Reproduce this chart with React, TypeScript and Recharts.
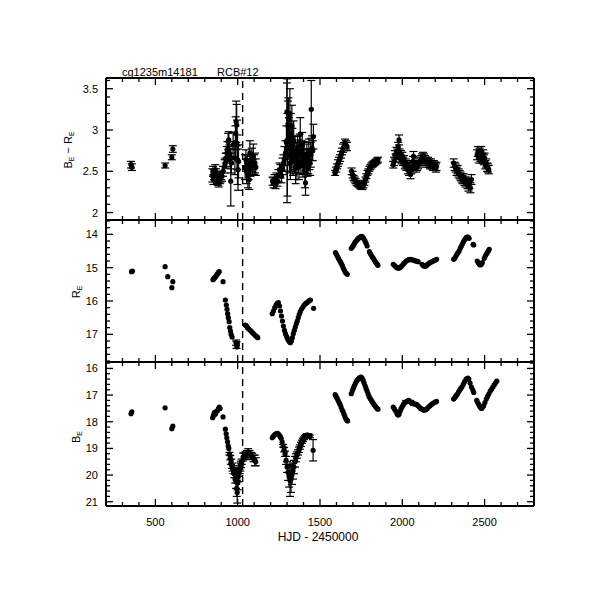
import React from "react";
import {
  ErrorBar,
  ReferenceLine,
  Scatter,
  ScatterChart,
  XAxis,
  YAxis,
} from "recharts";

// [HJD - 2450000, value, error]
type Pt = [number, number, number];

const colourPts: Pt[] = [
  [352, 2.58, 0.04], [357, 2.55, 0.04], [559, 2.57, 0.03], [600, 2.67, 0.03], [606, 2.77, 0.04],
  [846, 2.45, 0.08], [850, 2.5, 0.06], [853, 2.4, 0.06], [856, 2.46, 0.06], [860, 2.44, 0.05],
  [864, 2.52, 0.06], [868, 2.48, 0.05], [872, 2.42, 0.06], [876, 2.4, 0.05], [880, 2.38, 0.05],
  [885, 2.36, 0.05], [890, 2.4, 0.05], [895, 2.42, 0.06], [900, 2.45, 0.05], [905, 2.44, 0.06],
  [911, 2.5, 0.06], [920, 2.56, 0.08], [925, 2.6, 0.06], [928, 2.66, 0.06], [931, 2.64, 0.08],
  [935, 2.72, 0.08], [938, 2.76, 0.1], [942, 2.86, 0.1], [946, 2.88, 0.1], [950, 2.72, 0.1],
  [955, 2.65, 0.12], [958, 2.38, 0.3], [962, 2.6, 0.12], [972, 2.82, 0.15], [983, 2.66, 0.2],
  [986, 2.85, 0.2], [988, 2.96, 0.2], [991, 3.1, 0.25], [994, 3.06, 0.25], [996, 2.82, 0.3],
  [999, 2.64, 0.3], [1002, 2.52, 0.25], [1005, 2.62, 0.2],
  [1045, 2.55, 0.15], [1050, 2.64, 0.12], [1054, 2.5, 0.15], [1058, 2.6, 0.1], [1062, 2.45, 0.15],
  [1066, 2.52, 0.12], [1070, 2.4, 0.12], [1074, 2.72, 0.15], [1078, 2.56, 0.12], [1082, 2.6, 0.1],
  [1086, 2.66, 0.12], [1090, 2.55, 0.1], [1095, 2.68, 0.15], [1100, 2.58, 0.12], [1105, 2.6, 0.12],
  [1110, 2.55, 0.1],
  [1212, 2.38, 0.05], [1218, 2.36, 0.06], [1224, 2.4, 0.06], [1230, 2.34, 0.05], [1236, 2.42, 0.06],
  [1242, 2.38, 0.06], [1248, 2.45, 0.07], [1254, 2.52, 0.08], [1260, 2.5, 0.08], [1266, 2.44, 0.08],
  [1272, 2.56, 0.1], [1278, 2.6, 0.1], [1284, 2.65, 0.15], [1290, 2.72, 0.15],
  [1296, 2.85, 0.2], [1299, 3.22, 0.35], [1300, 2.87, 0.75], [1302, 2.7, 0.5], [1305, 3.05, 0.3],
  [1308, 3.14, 0.25], [1311, 2.9, 0.25], [1314, 2.78, 0.3], [1317, 3.2, 0.3], [1320, 2.6, 0.2],
  [1323, 2.95, 0.25], [1326, 2.7, 0.2], [1329, 3.05, 0.25], [1332, 2.82, 0.2], [1336, 2.65, 0.2],
  [1340, 2.86, 0.25], [1344, 2.62, 0.15], [1348, 2.72, 0.2], [1352, 2.55, 0.2], [1356, 2.7, 0.15],
  [1360, 2.6, 0.2], [1364, 2.78, 0.15], [1368, 2.68, 0.2], [1372, 2.55, 0.15], [1376, 2.75, 0.2],
  [1380, 2.95, 0.2], [1384, 2.62, 0.15], [1388, 2.72, 0.15], [1392, 2.82, 0.15], [1396, 2.58, 0.15],
  [1400, 2.66, 0.2], [1404, 2.7, 0.15], [1408, 2.5, 0.2], [1412, 2.36, 0.15], [1416, 2.62, 0.15],
  [1420, 2.68, 0.15], [1424, 2.56, 0.12], [1428, 2.62, 0.15], [1432, 2.74, 0.15], [1436, 2.64, 0.12],
  [1440, 2.6, 0.15], [1444, 2.7, 0.15], [1447, 3.25, 0.35], [1452, 2.78, 0.15], [1456, 2.75, 0.12],
  [1460, 2.92, 0.15],
  [1592, 2.48, 0.03], [1598, 2.52, 0.03], [1604, 2.56, 0.03], [1610, 2.6, 0.04], [1616, 2.63, 0.04],
  [1622, 2.66, 0.04], [1628, 2.7, 0.04], [1634, 2.74, 0.04], [1640, 2.78, 0.05], [1646, 2.8, 0.05],
  [1652, 2.84, 0.05], [1658, 2.82, 0.05], [1664, 2.8, 0.05],
  [1692, 2.5, 0.04], [1698, 2.46, 0.04], [1704, 2.42, 0.03], [1710, 2.4, 0.03], [1716, 2.38, 0.03],
  [1722, 2.36, 0.03], [1728, 2.35, 0.03], [1734, 2.34, 0.03], [1740, 2.33, 0.03], [1746, 2.32, 0.03],
  [1752, 2.31, 0.03], [1758, 2.31, 0.03], [1764, 2.33, 0.03], [1770, 2.36, 0.03], [1776, 2.4, 0.03],
  [1782, 2.44, 0.03], [1788, 2.48, 0.03], [1794, 2.5, 0.03], [1800, 2.53, 0.03], [1806, 2.55, 0.03],
  [1812, 2.57, 0.03], [1818, 2.58, 0.03], [1824, 2.59, 0.03], [1830, 2.6, 0.03], [1836, 2.61, 0.03],
  [1842, 2.62, 0.03], [1848, 2.63, 0.03], [1852, 2.64, 0.03],
  [1945, 2.58, 0.04], [1950, 2.62, 0.05], [1955, 2.7, 0.05], [1960, 2.66, 0.05], [1965, 2.74, 0.05],
  [1970, 2.72, 0.05], [1975, 2.8, 0.05], [1980, 2.88, 0.06], [1984, 2.72, 0.05], [1988, 2.66, 0.05],
  [1992, 2.7, 0.05], [1996, 2.64, 0.05], [2000, 2.68, 0.05], [2005, 2.62, 0.05], [2010, 2.64, 0.05],
  [2015, 2.58, 0.05], [2020, 2.6, 0.05], [2025, 2.56, 0.05], [2030, 2.58, 0.05], [2035, 2.52, 0.05],
  [2040, 2.5, 0.05], [2045, 2.55, 0.05], [2050, 2.46, 0.05], [2055, 2.52, 0.05], [2060, 2.56, 0.05],
  [2065, 2.62, 0.06], [2068, 2.68, 0.06], [2072, 2.58, 0.05], [2078, 2.56, 0.05], [2084, 2.54, 0.05],
  [2090, 2.56, 0.05], [2096, 2.58, 0.05], [2102, 2.6, 0.05], [2108, 2.62, 0.05], [2114, 2.64, 0.05],
  [2120, 2.66, 0.05], [2126, 2.68, 0.05], [2132, 2.66, 0.05], [2138, 2.64, 0.05], [2144, 2.62, 0.05],
  [2150, 2.6, 0.05], [2156, 2.62, 0.05], [2162, 2.6, 0.05], [2168, 2.58, 0.05], [2174, 2.6, 0.05],
  [2180, 2.58, 0.05], [2186, 2.56, 0.05], [2192, 2.58, 0.05], [2198, 2.56, 0.05], [2204, 2.54, 0.05],
  [2208, 2.56, 0.05],
  [2312, 2.6, 0.05], [2318, 2.56, 0.05], [2324, 2.54, 0.05], [2330, 2.5, 0.05], [2336, 2.52, 0.05],
  [2342, 2.48, 0.05], [2348, 2.46, 0.05], [2354, 2.44, 0.05], [2360, 2.42, 0.05], [2366, 2.4, 0.05],
  [2372, 2.42, 0.05], [2378, 2.38, 0.05], [2384, 2.36, 0.05], [2390, 2.38, 0.05], [2396, 2.34, 0.05],
  [2402, 2.32, 0.06], [2408, 2.35, 0.06], [2414, 2.3, 0.06], [2420, 2.4, 0.06],
  [2455, 2.7, 0.06], [2460, 2.74, 0.06], [2465, 2.66, 0.06], [2470, 2.72, 0.06], [2475, 2.68, 0.06],
  [2480, 2.74, 0.06], [2485, 2.66, 0.06], [2490, 2.7, 0.06], [2495, 2.64, 0.06], [2500, 2.66, 0.06],
  [2505, 2.58, 0.05], [2510, 2.6, 0.05], [2515, 2.55, 0.05], [2520, 2.54, 0.05], [2525, 2.52, 0.05],
];

const rPts: Pt[] = [
  [355, 15.12, 0], [361, 15.1, 0],
  [559, 14.97, 0], [575, 15.27, 0], [600, 15.6, 0], [606, 15.42, 0],
  [850, 15.36, 0], [855, 15.33, 0], [860, 15.3, 0], [866, 15.27, 0], [872, 15.22, 0],
  [878, 15.18, 0], [884, 15.14, 0], [888, 15.12, 0], [911, 15.42, 0],
  [925, 15.97, 0], [931, 16.12, 0], [935, 16.25, 0], [939, 16.38, 0], [943, 16.5, 0],
  [948, 16.62, 0], [952, 16.8, 0], [956, 16.9, 0], [960, 17.0, 0], [966, 17.08, 0],
  [990, 17.25, 0.08], [993, 17.32, 0.1], [996, 17.38, 0], [998, 17.28, 0],
  [1046, 16.72, 0], [1052, 16.74, 0], [1060, 16.8, 0], [1068, 16.84, 0], [1076, 16.88, 0],
  [1084, 16.92, 0], [1092, 16.96, 0], [1100, 17.0, 0], [1108, 17.04, 0], [1116, 17.07, 0], [1122, 17.1, 0],
  [1210, 16.38, 0], [1217, 16.3, 0], [1225, 16.2, 0], [1233, 16.12, 0], [1240, 16.07, 0],
  [1247, 16.05, 0], [1254, 16.15, 0], [1260, 16.3, 0], [1266, 16.45, 0], [1272, 16.6, 0],
  [1278, 16.75, 0], [1284, 16.88, 0], [1290, 16.98, 0], [1296, 17.05, 0], [1302, 17.12, 0],
  [1308, 17.18, 0], [1314, 17.22, 0], [1320, 17.25, 0], [1326, 17.2, 0], [1332, 17.1, 0],
  [1338, 16.98, 0], [1344, 16.88, 0], [1350, 16.78, 0], [1356, 16.68, 0], [1362, 16.6, 0],
  [1368, 16.5, 0], [1374, 16.4, 0], [1380, 16.32, 0], [1388, 16.24, 0], [1396, 16.18, 0],
  [1404, 16.12, 0], [1412, 16.08, 0], [1420, 16.05, 0], [1428, 16.02, 0], [1436, 15.98, 0],
  [1442, 15.97, 0], [1461, 16.22, 0],
  [1594, 14.55, 0], [1600, 14.6, 0], [1606, 14.66, 0], [1612, 14.72, 0], [1618, 14.78, 0],
  [1624, 14.82, 0], [1630, 14.88, 0], [1636, 14.94, 0], [1642, 15.02, 0], [1648, 15.08, 0],
  [1654, 15.14, 0], [1660, 15.17, 0], [1666, 15.2, 0],
  [1690, 14.42, 0], [1696, 14.38, 0], [1702, 14.34, 0], [1708, 14.28, 0], [1714, 14.23, 0],
  [1720, 14.2, 0], [1726, 14.16, 0], [1732, 14.13, 0], [1738, 14.1, 0], [1744, 14.08, 0],
  [1750, 14.06, 0], [1756, 14.07, 0], [1762, 14.1, 0], [1768, 14.15, 0], [1774, 14.2, 0],
  [1780, 14.27, 0], [1786, 14.35, 0], [1800, 14.52, 0], [1806, 14.58, 0], [1812, 14.63, 0],
  [1818, 14.68, 0], [1824, 14.72, 0], [1830, 14.77, 0], [1836, 14.82, 0], [1842, 14.86, 0],
  [1848, 14.9, 0], [1852, 14.93, 0],
  [1945, 14.9, 0], [1952, 14.93, 0], [1960, 14.97, 0], [1968, 15.0, 0], [1976, 15.02, 0],
  [1984, 15.0, 0], [1992, 14.97, 0], [2000, 14.93, 0], [2008, 14.88, 0], [2016, 14.84, 0],
  [2024, 14.8, 0], [2032, 14.78, 0], [2040, 14.76, 0], [2048, 14.75, 0], [2056, 14.76, 0],
  [2064, 14.77, 0], [2072, 14.78, 0], [2080, 14.8, 0], [2088, 14.8, 0], [2096, 14.82, 0],
  [2120, 14.9, 0], [2128, 14.94, 0], [2136, 14.96, 0], [2144, 14.95, 0], [2152, 14.91, 0],
  [2160, 14.88, 0], [2168, 14.85, 0], [2176, 14.83, 0], [2184, 14.81, 0], [2192, 14.79, 0],
  [2200, 14.77, 0], [2208, 14.75, 0],
  [2312, 14.75, 0], [2318, 14.72, 0], [2325, 14.66, 0], [2332, 14.6, 0], [2338, 14.55, 0],
  [2345, 14.5, 0], [2352, 14.42, 0], [2358, 14.36, 0], [2364, 14.3, 0], [2370, 14.24, 0],
  [2376, 14.18, 0], [2382, 14.14, 0], [2388, 14.1, 0], [2394, 14.08, 0], [2400, 14.08, 0],
  [2406, 14.12, 0], [2430, 14.3, 0], [2434, 14.32, 0],
  [2455, 14.8, 0], [2462, 14.85, 0], [2468, 14.9, 0], [2474, 14.92, 0], [2480, 14.9, 0],
  [2486, 14.85, 0], [2498, 14.72, 0], [2504, 14.65, 0], [2510, 14.6, 0], [2516, 14.55, 0],
  [2522, 14.5, 0], [2528, 14.45, 0],
];

const bPts: Pt[] = [
  [352, 17.7, 0], [357, 17.63, 0],
  [559, 17.48, 0], [600, 18.26, 0], [606, 18.16, 0],
  [848, 17.85, 0], [852, 17.78, 0], [856, 17.7, 0], [860, 17.65, 0], [864, 17.72, 0],
  [870, 17.62, 0], [876, 17.6, 0], [882, 17.52, 0], [888, 17.45, 0], [893, 17.5, 0], [911, 17.82, 0],
  [925, 18.28, 0], [930, 18.45, 0], [934, 18.6, 0], [938, 18.75, 0], [942, 18.9, 0],
  [946, 19.0, 0], [950, 19.2, 0.05], [955, 19.35, 0.08], [960, 19.5, 0.1], [965, 19.65, 0.1],
  [970, 19.75, 0.1], [975, 19.85, 0.1], [980, 19.95, 0.15], [985, 20.1, 0.2], [990, 20.25, 0.25],
  [994, 20.5, 0.3], [997, 20.65, 0.4], [1000, 20.3, 0.25], [1004, 20.05, 0.2], [1008, 19.9, 0.15],
  [1012, 19.8, 0.15], [1016, 19.7, 0.15], [1020, 19.6, 0.12], [1024, 19.5, 0.1],
  [985, 19.85, 0.12], [992, 20.0, 0.15], [1000, 19.9, 0.15],
  [1033, 19.32, 0.15], [1040, 19.3, 0.12], [1048, 19.25, 0.12], [1056, 19.2, 0.12], [1064, 19.13, 0.12],
  [1072, 19.18, 0.1], [1080, 19.25, 0.1], [1088, 19.3, 0.12], [1096, 19.38, 0.12], [1104, 19.45, 0.2],
  [1110, 19.5, 0.15],
  [1210, 18.6, 0], [1216, 18.55, 0], [1222, 18.5, 0], [1228, 18.47, 0], [1234, 18.45, 0],
  [1240, 18.44, 0], [1246, 18.45, 0], [1252, 18.5, 0], [1258, 18.55, 0], [1264, 18.62, 0],
  [1270, 18.75, 0], [1276, 18.9, 0.05], [1282, 19.05, 0.08], [1288, 19.2, 0.1], [1294, 19.45, 0.15],
  [1300, 19.7, 0.2], [1306, 19.9, 0.3], [1312, 20.05, 0.4], [1318, 20.2, 0.6], [1324, 20.15, 0.5],
  [1330, 20.0, 0.35], [1336, 19.85, 0.3], [1342, 19.7, 0.25], [1348, 19.5, 0.2], [1354, 19.35, 0.15],
  [1360, 19.25, 0.12], [1366, 19.15, 0.1], [1372, 19.05, 0.1], [1378, 18.95, 0.08], [1384, 18.85, 0.08],
  [1390, 18.75, 0.06], [1396, 18.68, 0.06], [1402, 18.62, 0.05], [1408, 18.57, 0.05], [1414, 18.53, 0.05],
  [1420, 18.5, 0.05], [1426, 18.5, 0.05], [1432, 18.52, 0.05], [1438, 18.55, 0.05], [1458, 19.07, 0.4],
  [1592, 16.98, 0], [1598, 17.05, 0], [1604, 17.12, 0], [1610, 17.2, 0], [1616, 17.28, 0],
  [1622, 17.35, 0], [1628, 17.45, 0], [1634, 17.55, 0], [1640, 17.62, 0], [1646, 17.72, 0],
  [1652, 17.82, 0], [1658, 17.9, 0], [1664, 17.95, 0], [1668, 17.97, 0],
  [1690, 16.95, 0], [1696, 16.85, 0], [1702, 16.75, 0], [1708, 16.66, 0], [1714, 16.58, 0],
  [1720, 16.5, 0], [1726, 16.44, 0], [1732, 16.4, 0], [1738, 16.36, 0], [1744, 16.34, 0],
  [1750, 16.33, 0], [1756, 16.36, 0], [1762, 16.45, 0], [1768, 16.55, 0], [1774, 16.65, 0],
  [1780, 16.75, 0], [1786, 16.85, 0], [1792, 16.95, 0], [1798, 17.05, 0], [1804, 17.12, 0],
  [1810, 17.18, 0], [1816, 17.24, 0], [1822, 17.3, 0], [1828, 17.35, 0], [1834, 17.4, 0],
  [1840, 17.45, 0], [1846, 17.5, 0], [1852, 17.53, 0],
  [1945, 17.45, 0], [1952, 17.52, 0], [1960, 17.6, 0], [1968, 17.7, 0], [1974, 17.75, 0],
  [1980, 17.72, 0], [1986, 17.62, 0], [1992, 17.52, 0], [1998, 17.45, 0], [2004, 17.38, 0],
  [2010, 17.32, 0], [2016, 17.28, 0], [2024, 17.25, 0.05], [2032, 17.22, 0], [2040, 17.2, 0],
  [2048, 17.25, 0.05], [2056, 17.3, 0], [2064, 17.32, 0], [2072, 17.33, 0.05], [2080, 17.34, 0],
  [2088, 17.36, 0], [2096, 17.4, 0], [2104, 17.46, 0], [2112, 17.5, 0], [2120, 17.53, 0],
  [2128, 17.56, 0], [2136, 17.57, 0], [2144, 17.54, 0], [2152, 17.5, 0], [2160, 17.45, 0],
  [2168, 17.4, 0], [2176, 17.36, 0], [2184, 17.32, 0], [2192, 17.29, 0], [2200, 17.26, 0], [2208, 17.24, 0],
  [2312, 17.15, 0], [2318, 17.1, 0], [2324, 17.05, 0], [2330, 17.0, 0], [2336, 16.95, 0],
  [2342, 16.88, 0], [2348, 16.82, 0], [2354, 16.76, 0], [2362, 16.7, 0], [2370, 16.6, 0],
  [2378, 16.5, 0], [2386, 16.42, 0], [2392, 16.38, 0], [2398, 16.36, 0], [2404, 16.4, 0],
  [2412, 16.55, 0], [2420, 16.7, 0], [2428, 16.8, 0], [2434, 16.9, 0],
  [2452, 17.2, 0], [2458, 17.28, 0], [2464, 17.35, 0], [2470, 17.42, 0], [2476, 17.48, 0],
  [2482, 17.5, 0], [2488, 17.45, 0], [2494, 17.4, 0], [2502, 17.28, 0], [2510, 17.15, 0],
  [2518, 17.05, 0], [2526, 16.95, 0], [2534, 16.85, 0], [2542, 16.78, 0], [2550, 16.7, 0],
  [2558, 16.62, 0], [2566, 16.55, 0], [2574, 16.48, 0],
];

const xTicks = [300, 400, 500, 600, 700, 800, 900, 1000, 1100, 1200, 1300, 1400, 1500, 1600, 1700,
  1800, 1900, 2000, 2100, 2200, 2300, 2400, 2500, 2600, 2700];
const xMajor = [500, 1000, 1500, 2000, 2500];

const colourTicks = [2, 2.1, 2.2, 2.3, 2.4, 2.5, 2.6, 2.7, 2.8, 2.9, 3, 3.1, 3.2, 3.3, 3.4, 3.5, 3.6];
const colourMajor = [2, 2.5, 3, 3.5];
const rTicks = [13.6, 13.8, 14, 14.2, 14.4, 14.6, 14.8, 15, 15.2, 15.4, 15.6, 15.8, 16, 16.2, 16.4,
  16.6, 16.8, 17, 17.2, 17.4, 17.6, 17.8];
const rMajor = [14, 15, 16, 17];
const bTicks = [15.8, 16, 16.2, 16.4, 16.6, 16.8, 17, 17.2, 17.4, 17.6, 17.8, 18, 18.2, 18.4, 18.6,
  18.8, 19, 19.2, 19.4, 19.6, 19.8, 20, 20.2, 20.4, 20.6, 20.8, 21];
const bMajor = [16, 17, 18, 19, 20, 21];

const dashedEpoch = 1030;

const FONT = "'Liberation Sans', Arial, Helvetica, sans-serif";
const X_DOMAIN: [number, number] = [200, 2800];
const PLOT_LEFT = 106;
const PLOT_RIGHT = 534;

const isIn = (list: number[], v: number) => list.some((m) => Math.abs(m - v) < 1e-6);

function XTick(props: any) {
  const { x, y, payload, side, labels } = props;
  const v = payload.value;
  const major = isIn(xMajor, v);
  const len = major ? 7 : 4;
  const dir = side === "bottom" ? -1 : 1;
  return (
    <g>
      <line x1={x} x2={x} y1={y} y2={y + dir * len} stroke="#000" strokeWidth={1.3} />
      {labels && major ? (
        <text x={x} y={y + 20} textAnchor="middle" fontSize={11} fontFamily={FONT} fill="#000">
          {v}
        </text>
      ) : null}
    </g>
  );
}

function YTick(props: any) {
  const { x, y, payload, side, majors } = props;
  const v = payload.value;
  const major = isIn(majors, v);
  const len = major ? 7 : 4;
  const dir = side === "left" ? 1 : -1;
  return (
    <g>
      <line x1={x} x2={x + dir * len} y1={y} y2={y} stroke="#000" strokeWidth={1.3} />
      {side === "left" && major ? (
        <text x={x - 8} y={y + 4} textAnchor="end" fontSize={11} fontFamily={FONT} fill="#000">
          {v}
        </text>
      ) : null}
    </g>
  );
}

const dot = (p: any) => <circle cx={p.cx} cy={p.cy} r={2.6} fill="#000" />;

function Panel({
  pts,
  top,
  bottom,
  domain,
  ticks,
  majors,
  reversed,
  xLabels,
}: {
  pts: Pt[];
  top: number;
  bottom: number;
  domain: [number, number];
  ticks: number[];
  majors: number[];
  reversed?: boolean;
  xLabels?: boolean;
}) {
  const rows = pts.map(([t, v, e]) => ({ t, v, e }));
  const axisLine = { stroke: "#000", strokeWidth: 2 };
  // each axis is 1px thick; margins are reduced by that so the plot box stays put
  return (
    <div style={{ position: "absolute", left: 0, top: 0 }}>
      <ScatterChart
        width={611}
        height={611}
        margin={{ top: top - 1, bottom: 611 - bottom - 1, left: PLOT_LEFT - 40, right: 611 - PLOT_RIGHT - 1 }}
      >
        <XAxis
          type="number"
          dataKey="t"
          domain={X_DOMAIN}
          ticks={xTicks}
          interval={0}
          allowDataOverflow
          height={1}
          tickSize={0}
          tickMargin={0}
          tickLine={false}
          axisLine={axisLine}
          tick={(p: any) => <XTick {...p} side="bottom" labels={xLabels} />}
        />
        <XAxis
          xAxisId="top"
          orientation="top"
          type="number"
          dataKey="t"
          domain={X_DOMAIN}
          ticks={xTicks}
          interval={0}
          allowDataOverflow
          height={1}
          tickSize={0}
          tickMargin={0}
          tickLine={false}
          axisLine={axisLine}
          tick={(p: any) => <XTick {...p} side="top" />}
        />
        <YAxis
          type="number"
          dataKey="v"
          domain={domain}
          reversed={reversed}
          ticks={ticks}
          interval={0}
          allowDataOverflow
          width={40}
          tickSize={0}
          tickMargin={0}
          tickLine={false}
          axisLine={axisLine}
          tick={(p: any) => <YTick {...p} side="left" majors={majors} />}
        />
        <YAxis
          yAxisId="right"
          orientation="right"
          type="number"
          dataKey="v"
          domain={domain}
          reversed={reversed}
          ticks={ticks}
          interval={0}
          allowDataOverflow
          width={1}
          tickSize={0}
          tickMargin={0}
          tickLine={false}
          axisLine={axisLine}
          tick={(p: any) => <YTick {...p} side="right" majors={majors} />}
        />
        <ReferenceLine x={dashedEpoch} stroke="#000" strokeWidth={1.4} strokeDasharray="7 5" />
        <Scatter data={rows} shape={dot} isAnimationActive={false}>
          <ErrorBar
            dataKey="e"
            direction="y"
            width={4}
            stroke="#000"
            strokeWidth={1.2}
            isAnimationActive={false}
          />
        </Scatter>
      </ScatterChart>
    </div>
  );
}

export default function App() {
  return (
    <div
      style={{
        position: "absolute",
        left: 0,
        top: 0,
        width: 611,
        height: 611,
        background: "#fff",
        overflow: "hidden",
      }}
    >
      <Panel pts={colourPts} top={78} bottom={220} domain={[1.91, 3.63]} ticks={colourTicks} majors={colourMajor} />
      <Panel pts={rPts} top={220} bottom={362} domain={[13.57, 17.83]} ticks={rTicks} majors={rMajor} reversed />
      <Panel
        pts={bPts}
        top={362}
        bottom={506}
        domain={[15.76, 21.16]}
        ticks={bTicks}
        majors={bMajor}
        reversed
        xLabels
      />
      <svg
        width={611}
        height={611}
        style={{ position: "absolute", left: 0, top: 0, pointerEvents: "none" }}
        fontFamily={FONT}
      >
        <text x={122} y={76} fontSize={11} fill="#000">
          cg1235m14181
        </text>
        <text x={217} y={76} fontSize={11} fill="#000">
          RCB#12
        </text>
        <text x={72} y={150} fontSize={11} fill="#000" textAnchor="middle" transform="rotate(-90 72 150)">
          B<tspan fontSize={7} dy={2}>E</tspan>
          <tspan dy={-2}> − R</tspan>
          <tspan fontSize={7} dy={2}>E</tspan>
        </text>
        <text x={80} y={292} fontSize={11} fill="#000" textAnchor="middle" transform="rotate(-90 80 292)">
          R<tspan fontSize={7} dy={2}>E</tspan>
        </text>
        <text x={80} y={437} fontSize={11} fill="#000" textAnchor="middle" transform="rotate(-90 80 437)">
          B<tspan fontSize={7} dy={2}>E</tspan>
        </text>
        <text x={318} y={541} fontSize={12} fill="#000" textAnchor="middle">
          HJD - 2450000
        </text>
      </svg>
    </div>
  );
}
